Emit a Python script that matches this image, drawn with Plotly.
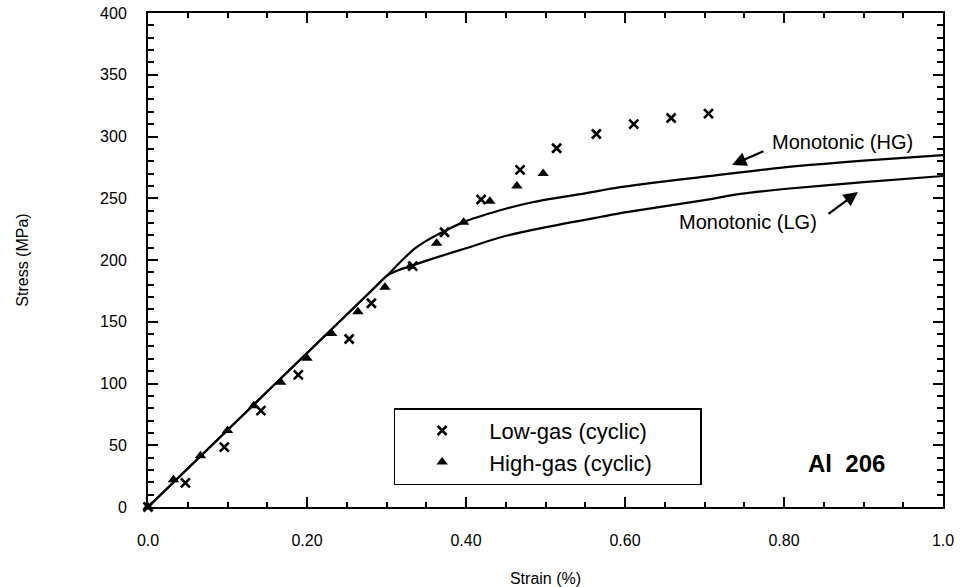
import plotly.graph_objects as go

# Monotonic curves (strain %, stress MPa)
hg_strain = [0.0, 0.15, 0.28, 0.30, 0.32, 0.335, 0.35, 0.37, 0.40, 0.45, 0.485, 0.55, 0.594, 0.70, 0.80, 0.90, 1.0]
hg_stress = [0.0, 93.5, 174.5, 187, 200, 209, 215.5, 222.5, 231.5, 241.5, 247, 254, 259, 267.5, 275, 280.5, 285]

lg_strain = [0.0, 0.15, 0.28, 0.30, 0.31, 0.33, 0.36, 0.40, 0.447, 0.50, 0.57, 0.60, 0.70, 0.745, 0.80, 0.90, 1.0]
lg_stress = [0.0, 93.5, 174.5, 187, 190.5, 195, 201.5, 209.5, 219, 226.5, 235, 238.5, 248.5, 253.5, 257.5, 263, 268]

# Cyclic data
low_strain = [0.0, 0.047, 0.096, 0.142, 0.189, 0.253, 0.281, 0.333, 0.373, 0.419, 0.468, 0.514, 0.564, 0.611, 0.658, 0.705]
low_stress = [0.0, 19.5, 48.5, 78, 107, 136, 165, 195, 222.5, 249, 273, 290.5, 302, 310, 315, 318.5]

high_strain = [0.0, 0.032, 0.066, 0.100, 0.133, 0.167, 0.200, 0.231, 0.264, 0.298, 0.330, 0.363, 0.397, 0.430, 0.464, 0.497]
high_stress = [0.0, 22, 41.5, 62, 82, 101, 120.5, 140.5, 158, 178, 195, 213.5, 230.5, 247.5, 260, 270]

x_tickvals = [0.0, 0.2, 0.4, 0.6, 0.8, 1.0]
x_ticktext = ["0.0", "0.20", "0.40", "0.60", "0.80", "1.0"]
y_tickvals = [0, 50, 100, 150, 200, 250, 300, 350, 400]

FONT = "Liberation Sans, Arial, sans-serif"
NB = "\u00a0" * 7

fig = go.Figure()
fig.add_trace(go.Scatter(x=hg_strain, y=hg_stress, mode="lines", line=dict(color="black", width=2.2, shape="spline", smoothing=0.8),
                         showlegend=False))
fig.add_trace(go.Scatter(x=lg_strain, y=lg_stress, mode="lines", line=dict(color="black", width=2.2, shape="spline", smoothing=0.8),
                         showlegend=False))
fig.add_trace(go.Scatter(x=low_strain, y=low_stress, mode="markers", name="Low-gas (cyclic)" + NB,
                         marker=dict(symbol="x-thin", size=9, line=dict(color="black", width=2.6), color="black"),
                         cliponaxis=False))
fig.add_trace(go.Scatter(x=high_strain, y=high_stress, mode="markers", name="High-gas (cyclic)" + NB,
                         marker=dict(symbol="triangle-up", size=10, color="black"),
                         cliponaxis=False))

ann_font = dict(family=FONT, size=20, color="black")
fig.add_annotation(x=0.874, y=295.5, xref="x", yref="y", text="Monotonic (HG)", showarrow=False, font=ann_font)
fig.add_annotation(x=0.755, y=230.8, xref="x", yref="y", text="Monotonic (LG)", showarrow=False, font=ann_font)
fig.add_annotation(x=0.7346, y=277, ax=0.776, ay=288.5, xref="x", yref="y", axref="x", ayref="y",
                   text="", showarrow=True, arrowhead=2, arrowsize=1.3, arrowwidth=2.2, arrowcolor="black")
fig.add_annotation(x=0.893, y=255, ax=0.854, ay=236.4, xref="x", yref="y", axref="x", ayref="y",
                   text="", showarrow=True, arrowhead=2, arrowsize=1.3, arrowwidth=2.2, arrowcolor="black")
fig.add_annotation(x=0.878, y=35, xref="x", yref="y", text="<b>Al  206</b>", showarrow=False,
                   font=dict(family=FONT, size=24, color="black"))

fig.update_layout(
    width=961, height=587,
    margin=dict(l=148, r=18, t=13, b=80, autoexpand=False),
    paper_bgcolor="white", plot_bgcolor="white",
    font=dict(family=FONT, size=16, color="black"),
    legend=dict(x=0.309, y=0.20, xanchor="left", yanchor="top",
                bordercolor="black", borderwidth=1.5, bgcolor="white",
                font=dict(family=FONT, size=22, color="black"),
                itemwidth=84, tracegroupgap=0),
    xaxis=dict(range=[0, 1], tickmode="array", tickvals=x_tickvals, ticktext=x_ticktext,
               ticks="inside", ticklen=10, tickwidth=2, tickcolor="black",
               minor=dict(tickmode="linear", tick0=0, dtick=0.05, ticks="inside", ticklen=5, tickwidth=1.5, tickcolor="black"),
               showline=True, linewidth=2, linecolor="black", mirror="allticks",
               showgrid=False, zeroline=False, ticklabelstandoff=18, automargin=False,
               title=dict(text="Strain (%)", font=dict(size=16), standoff=35),
               tickfont=dict(size=16)),
    yaxis=dict(range=[0, 400], tickmode="array", tickvals=y_tickvals,
               ticks="inside", ticklen=10, tickwidth=2, tickcolor="black",
               minor=dict(tickmode="linear", tick0=0, dtick=10, ticks="inside", ticklen=6, tickwidth=1.5, tickcolor="black"),
               showline=True, linewidth=2, linecolor="black", mirror="allticks",
               showgrid=False, zeroline=False, ticklabelstandoff=16, automargin=False,
               title=dict(text="Stress (MPa)", font=dict(size=16), standoff=67),
               tickfont=dict(size=16)),
)

fig.write_html("out.html")
